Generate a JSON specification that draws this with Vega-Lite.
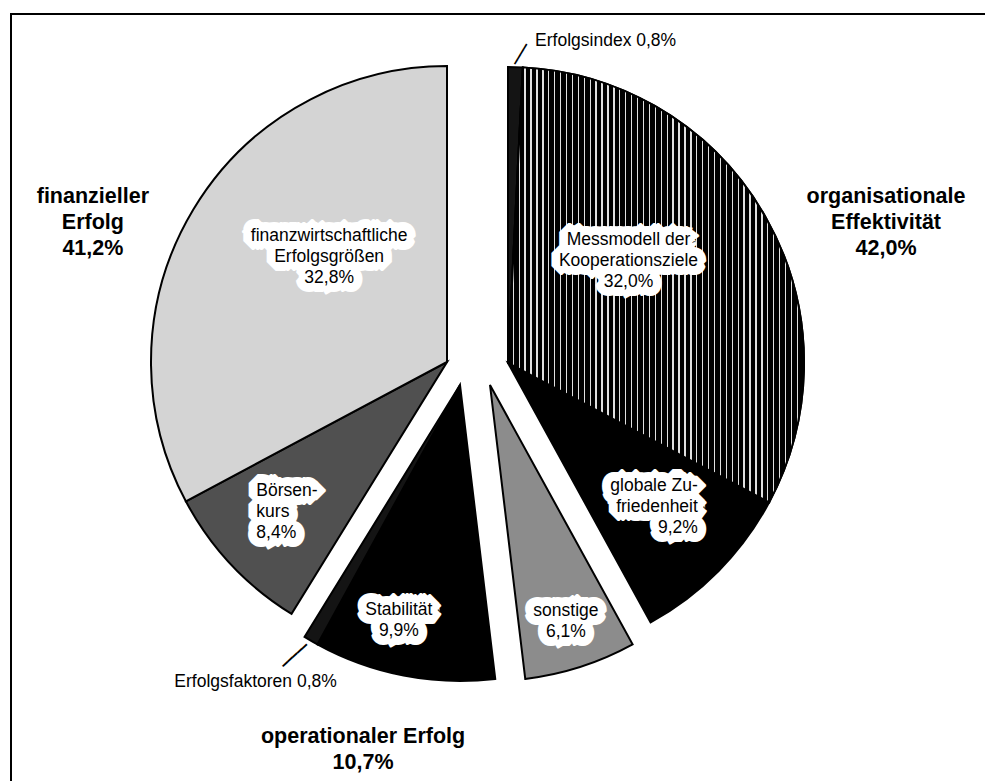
{
  "$schema": "https://vega.github.io/schema/vega-lite/v6.json",
  "width": 1000,
  "height": 800,
  "autosize": "none",
  "padding": {"left": 11, "top": 14, "right": -26, "bottom": -33},
  "background": "white",
  "config": {"view": {"stroke": "black", "strokeWidth": 2}, "font": "Liberation Sans"},
  "data": {
    "values": [
      {"order": 1, "group": "organisationale Effektivität", "item": "Erfolgsindex", "value": 0.8, "outside": "Erfolgsindex 0,8%", "title": "organisationale\nEffektivität\n42,0%"},
      {"order": 2, "group": "organisationale Effektivität", "item": "Messmodell der Kooperationsziele", "value": 32.0, "label": "Messmodell der\nKooperationsziele\n32,0%"},
      {"order": 3, "group": "organisationale Effektivität", "item": "globale Zufriedenheit", "value": 9.2, "label": "globale Zu-\nfriedenheit\n9,2%"},
      {"order": 4, "group": "sonstige", "item": "sonstige", "value": 6.1, "label": "sonstige\n6,1%"},
      {"order": 5, "group": "operationaler Erfolg", "item": "Stabilität", "value": 9.9, "label": "Stabilität\n9,9%", "title": "operationaler Erfolg\n10,7%"},
      {"order": 6, "group": "operationaler Erfolg", "item": "Erfolgsfaktoren", "value": 0.8, "outside": "Erfolgsfaktoren 0,8%"},
      {"order": 7, "group": "finanzieller Erfolg", "item": "Börsenkurs", "value": 8.4, "label": "Börsen-\nkurs\n8,4%", "title": "finanzieller\nErfolg\n41,2%"},
      {"order": 8, "group": "finanzieller Erfolg", "item": "finanzwirtschaftliche Erfolgsgrößen", "value": 32.8, "label": "finanzwirtschaftliche\nErfolgsgrößen\n32,8%"}
    ]
  },
  "transform": [
    {"window": [{"op": "sum", "field": "value", "as": "cum"}], "sort": [{"field": "order", "order": "ascending"}], "frame": [null, 0]},
    {"calculate": "datum.cum - datum.value", "as": "start"},
    {"calculate": "datum.cum - datum.value / 2", "as": "mid"}
  ],
  "layer": [
    {
      "mark": {"type": "point", "opacity": 0},
      "encoding": {
        "x": {"field": "value", "type": "quantitative", "axis": null},
        "y": {"field": "cum", "type": "quantitative", "axis": null}
      }
    },
    {
      "transform": [{"filter": "datum.group === 'organisationale Effektivität'"}],
      "layer": [
        {
          "mark": {"type": "arc", "outerRadius": 296, "stroke": "black", "strokeWidth": 2, "xOffset": -3, "yOffset": -51},
          "encoding": {
            "theta": {"field": "start", "type": "quantitative", "stack": null, "scale": {"domain": [0, 100], "range": [0, 6.283185307179586]}},
            "theta2": {"field": "cum"},
            "fill": {"field": "item", "type": "nominal", "legend": null, "scale": {"domain": ["Erfolgsindex", "Messmodell der Kooperationsziele", "globale Zufriedenheit", "sonstige", "Stabilität", "Erfolgsfaktoren", "Börsenkurs", "finanzwirtschaftliche Erfolgsgrößen"], "range": ["#141414", "#000000", "#000000", "#8c8c8c", "#000000", "#141414", "#505050", "#d4d4d4"]}}
          }
        },
        {
          "transform": [{"filter": "datum.item === 'Messmodell der Kooperationsziele'"}],
          "mark": {"type": "arc", "outerRadius": 296, "stroke": "black", "strokeWidth": 2, "xOffset": -3, "yOffset": -51,
            "fill": {"gradient": "linear", "x1": 0, "y1": 0, "x2": 1, "y2": 0, "stops": [
              {"offset": 0, "color": "#000"}, {"offset": 0.0155, "color": "#000"}, {"offset": 0.0155, "color": "#e0e0e0"}, {"offset": 0.02, "color": "#e0e0e0"},
              {"offset": 0.02, "color": "#000"}, {"offset": 0.0355, "color": "#000"}, {"offset": 0.0355, "color": "#e0e0e0"}, {"offset": 0.04, "color": "#e0e0e0"},
              {"offset": 0.04, "color": "#000"}, {"offset": 0.0555, "color": "#000"}, {"offset": 0.0555, "color": "#e0e0e0"}, {"offset": 0.06, "color": "#e0e0e0"},
              {"offset": 0.06, "color": "#000"}, {"offset": 0.0755, "color": "#000"}, {"offset": 0.0755, "color": "#e0e0e0"}, {"offset": 0.08, "color": "#e0e0e0"},
              {"offset": 0.08, "color": "#000"}, {"offset": 0.0955, "color": "#000"}, {"offset": 0.0955, "color": "#e0e0e0"}, {"offset": 0.1, "color": "#e0e0e0"},
              {"offset": 0.1, "color": "#000"}, {"offset": 0.1155, "color": "#000"}, {"offset": 0.1155, "color": "#e0e0e0"}, {"offset": 0.12, "color": "#e0e0e0"},
              {"offset": 0.12, "color": "#000"}, {"offset": 0.1355, "color": "#000"}, {"offset": 0.1355, "color": "#e0e0e0"}, {"offset": 0.14, "color": "#e0e0e0"},
              {"offset": 0.14, "color": "#000"}, {"offset": 0.1555, "color": "#000"}, {"offset": 0.1555, "color": "#e0e0e0"}, {"offset": 0.16, "color": "#e0e0e0"},
              {"offset": 0.16, "color": "#000"}, {"offset": 0.1755, "color": "#000"}, {"offset": 0.1755, "color": "#e0e0e0"}, {"offset": 0.18, "color": "#e0e0e0"},
              {"offset": 0.18, "color": "#000"}, {"offset": 0.1955, "color": "#000"}, {"offset": 0.1955, "color": "#e0e0e0"}, {"offset": 0.2, "color": "#e0e0e0"},
              {"offset": 0.2, "color": "#000"}, {"offset": 0.2155, "color": "#000"}, {"offset": 0.2155, "color": "#e0e0e0"}, {"offset": 0.22, "color": "#e0e0e0"},
              {"offset": 0.22, "color": "#000"}, {"offset": 0.2355, "color": "#000"}, {"offset": 0.2355, "color": "#e0e0e0"}, {"offset": 0.24, "color": "#e0e0e0"},
              {"offset": 0.24, "color": "#000"}, {"offset": 0.2555, "color": "#000"}, {"offset": 0.2555, "color": "#e0e0e0"}, {"offset": 0.26, "color": "#e0e0e0"},
              {"offset": 0.26, "color": "#000"}, {"offset": 0.2755, "color": "#000"}, {"offset": 0.2755, "color": "#e0e0e0"}, {"offset": 0.28, "color": "#e0e0e0"},
              {"offset": 0.28, "color": "#000"}, {"offset": 0.2955, "color": "#000"}, {"offset": 0.2955, "color": "#e0e0e0"}, {"offset": 0.3, "color": "#e0e0e0"},
              {"offset": 0.3, "color": "#000"}, {"offset": 0.3155, "color": "#000"}, {"offset": 0.3155, "color": "#e0e0e0"}, {"offset": 0.32, "color": "#e0e0e0"},
              {"offset": 0.32, "color": "#000"}, {"offset": 0.3355, "color": "#000"}, {"offset": 0.3355, "color": "#e0e0e0"}, {"offset": 0.34, "color": "#e0e0e0"},
              {"offset": 0.34, "color": "#000"}, {"offset": 0.3555, "color": "#000"}, {"offset": 0.3555, "color": "#e0e0e0"}, {"offset": 0.36, "color": "#e0e0e0"},
              {"offset": 0.36, "color": "#000"}, {"offset": 0.3755, "color": "#000"}, {"offset": 0.3755, "color": "#e0e0e0"}, {"offset": 0.38, "color": "#e0e0e0"},
              {"offset": 0.38, "color": "#000"}, {"offset": 0.3955, "color": "#000"}, {"offset": 0.3955, "color": "#e0e0e0"}, {"offset": 0.4, "color": "#e0e0e0"},
              {"offset": 0.4, "color": "#000"}, {"offset": 0.4155, "color": "#000"}, {"offset": 0.4155, "color": "#e0e0e0"}, {"offset": 0.42, "color": "#e0e0e0"},
              {"offset": 0.42, "color": "#000"}, {"offset": 0.4355, "color": "#000"}, {"offset": 0.4355, "color": "#e0e0e0"}, {"offset": 0.44, "color": "#e0e0e0"},
              {"offset": 0.44, "color": "#000"}, {"offset": 0.4555, "color": "#000"}, {"offset": 0.4555, "color": "#e0e0e0"}, {"offset": 0.46, "color": "#e0e0e0"},
              {"offset": 0.46, "color": "#000"}, {"offset": 0.4755, "color": "#000"}, {"offset": 0.4755, "color": "#e0e0e0"}, {"offset": 0.48, "color": "#e0e0e0"},
              {"offset": 0.48, "color": "#000"}, {"offset": 0.4955, "color": "#000"}, {"offset": 0.4955, "color": "#e0e0e0"}, {"offset": 0.5, "color": "#e0e0e0"},
              {"offset": 0.5, "color": "#000"}, {"offset": 0.5155, "color": "#000"}, {"offset": 0.5155, "color": "#e0e0e0"}, {"offset": 0.52, "color": "#e0e0e0"},
              {"offset": 0.52, "color": "#000"}, {"offset": 0.5355, "color": "#000"}, {"offset": 0.5355, "color": "#e0e0e0"}, {"offset": 0.54, "color": "#e0e0e0"},
              {"offset": 0.54, "color": "#000"}, {"offset": 0.5555, "color": "#000"}, {"offset": 0.5555, "color": "#e0e0e0"}, {"offset": 0.56, "color": "#e0e0e0"},
              {"offset": 0.56, "color": "#000"}, {"offset": 0.5755, "color": "#000"}, {"offset": 0.5755, "color": "#e0e0e0"}, {"offset": 0.58, "color": "#e0e0e0"},
              {"offset": 0.58, "color": "#000"}, {"offset": 0.5955, "color": "#000"}, {"offset": 0.5955, "color": "#e0e0e0"}, {"offset": 0.6, "color": "#e0e0e0"},
              {"offset": 0.6, "color": "#000"}, {"offset": 0.6155, "color": "#000"}, {"offset": 0.6155, "color": "#e0e0e0"}, {"offset": 0.62, "color": "#e0e0e0"},
              {"offset": 0.62, "color": "#000"}, {"offset": 0.6355, "color": "#000"}, {"offset": 0.6355, "color": "#e0e0e0"}, {"offset": 0.64, "color": "#e0e0e0"},
              {"offset": 0.64, "color": "#000"}, {"offset": 0.6555, "color": "#000"}, {"offset": 0.6555, "color": "#e0e0e0"}, {"offset": 0.66, "color": "#e0e0e0"},
              {"offset": 0.66, "color": "#000"}, {"offset": 0.6755, "color": "#000"}, {"offset": 0.6755, "color": "#e0e0e0"}, {"offset": 0.68, "color": "#e0e0e0"},
              {"offset": 0.68, "color": "#000"}, {"offset": 0.6955, "color": "#000"}, {"offset": 0.6955, "color": "#e0e0e0"}, {"offset": 0.7, "color": "#e0e0e0"},
              {"offset": 0.7, "color": "#000"}, {"offset": 0.7155, "color": "#000"}, {"offset": 0.7155, "color": "#e0e0e0"}, {"offset": 0.72, "color": "#e0e0e0"},
              {"offset": 0.72, "color": "#000"}, {"offset": 0.7355, "color": "#000"}, {"offset": 0.7355, "color": "#e0e0e0"}, {"offset": 0.74, "color": "#e0e0e0"},
              {"offset": 0.74, "color": "#000"}, {"offset": 0.7555, "color": "#000"}, {"offset": 0.7555, "color": "#e0e0e0"}, {"offset": 0.76, "color": "#e0e0e0"},
              {"offset": 0.76, "color": "#000"}, {"offset": 0.7755, "color": "#000"}, {"offset": 0.7755, "color": "#e0e0e0"}, {"offset": 0.78, "color": "#e0e0e0"},
              {"offset": 0.78, "color": "#000"}, {"offset": 0.7955, "color": "#000"}, {"offset": 0.7955, "color": "#e0e0e0"}, {"offset": 0.8, "color": "#e0e0e0"},
              {"offset": 0.8, "color": "#000"}, {"offset": 0.8155, "color": "#000"}, {"offset": 0.8155, "color": "#e0e0e0"}, {"offset": 0.82, "color": "#e0e0e0"},
              {"offset": 0.82, "color": "#000"}, {"offset": 0.8355, "color": "#000"}, {"offset": 0.8355, "color": "#e0e0e0"}, {"offset": 0.84, "color": "#e0e0e0"},
              {"offset": 0.84, "color": "#000"}, {"offset": 0.8555, "color": "#000"}, {"offset": 0.8555, "color": "#e0e0e0"}, {"offset": 0.86, "color": "#e0e0e0"},
              {"offset": 0.86, "color": "#000"}, {"offset": 0.8755, "color": "#000"}, {"offset": 0.8755, "color": "#e0e0e0"}, {"offset": 0.88, "color": "#e0e0e0"},
              {"offset": 0.88, "color": "#000"}, {"offset": 0.8955, "color": "#000"}, {"offset": 0.8955, "color": "#e0e0e0"}, {"offset": 0.9, "color": "#e0e0e0"},
              {"offset": 0.9, "color": "#000"}, {"offset": 0.9155, "color": "#000"}, {"offset": 0.9155, "color": "#e0e0e0"}, {"offset": 0.92, "color": "#e0e0e0"},
              {"offset": 0.92, "color": "#000"}, {"offset": 0.9355, "color": "#000"}, {"offset": 0.9355, "color": "#e0e0e0"}, {"offset": 0.94, "color": "#e0e0e0"},
              {"offset": 0.94, "color": "#000"}, {"offset": 0.9555, "color": "#000"}, {"offset": 0.9555, "color": "#e0e0e0"}, {"offset": 0.96, "color": "#e0e0e0"},
              {"offset": 0.96, "color": "#000"}, {"offset": 0.9755, "color": "#000"}, {"offset": 0.9755, "color": "#e0e0e0"}, {"offset": 0.98, "color": "#e0e0e0"},
              {"offset": 0.98, "color": "#000"}, {"offset": 0.9955, "color": "#000"}, {"offset": 0.9955, "color": "#e0e0e0"}, {"offset": 1, "color": "#e0e0e0"}
            ]}},
          "encoding": {
            "theta": {"field": "start", "type": "quantitative", "stack": null, "scale": {"domain": [0, 100], "range": [0, 6.283185307179586]}},
            "theta2": {"field": "cum"}
          }
        },
        {
          "transform": [{"filter": "isValid(datum.label)"}, {"calculate": "datum.value > 20 ? (datum.mid < 50 ? datum.mid - 3 : datum.mid + 3) : datum.mid", "as": "lpos"}],
          "mark": {"type": "text", "radius": {"expr": "datum.value > 20 ? 158 : 205"}, "xOffset": -3, "yOffset": -51, "dy": -21, "dx": {"expr": "datum.value > 20 ? 0 : 44"}, "align": {"expr": "datum.value > 20 ? 'center' : 'right'"}, "fontSize": 17.5, "lineHeight": 21, "lineBreak": "\n", "baseline": "middle", "fill": "white", "stroke": "white", "strokeWidth": 18, "strokeJoin": "bevel"},
          "encoding": {
            "theta": {"field": "lpos", "type": "quantitative", "stack": null, "scale": {"domain": [0, 100], "range": [0, 6.283185307179586]}},
            "text": {"field": "label", "type": "nominal"}
          }
        },
        {
          "transform": [{"filter": "isValid(datum.label)"}, {"calculate": "datum.value > 20 ? (datum.mid < 50 ? datum.mid - 3 : datum.mid + 3) : datum.mid", "as": "lpos"}],
          "mark": {"type": "text", "radius": {"expr": "datum.value > 20 ? 158 : 205"}, "xOffset": -3, "yOffset": -51, "dy": -21, "dx": {"expr": "datum.value > 20 ? 0 : 44"}, "align": {"expr": "datum.value > 20 ? 'center' : 'right'"}, "fontSize": 17.5, "lineHeight": 21, "lineBreak": "\n", "baseline": "middle", "fill": "white", "stroke": "white", "strokeWidth": 8, "strokeJoin": "round"},
          "encoding": {
            "theta": {"field": "lpos", "type": "quantitative", "stack": null, "scale": {"domain": [0, 100], "range": [0, 6.283185307179586]}},
            "text": {"field": "label", "type": "nominal"}
          }
        },
        {
          "transform": [{"filter": "isValid(datum.label)"}, {"calculate": "datum.value > 20 ? (datum.mid < 50 ? datum.mid - 3 : datum.mid + 3) : datum.mid", "as": "lpos"}],
          "mark": {"type": "text", "radius": {"expr": "datum.value > 20 ? 158 : 205"}, "xOffset": -3, "yOffset": -51, "dy": -21, "dx": {"expr": "datum.value > 20 ? 0 : 44"}, "align": {"expr": "datum.value > 20 ? 'center' : 'right'"}, "fontSize": 17.5, "lineHeight": 21, "lineBreak": "\n", "baseline": "middle", "fill": "black"},
          "encoding": {
            "theta": {"field": "lpos", "type": "quantitative", "stack": null, "scale": {"domain": [0, 100], "range": [0, 6.283185307179586]}},
            "text": {"field": "label", "type": "nominal"}
          }
        },
        {
          "transform": [{"filter": "isValid(datum.outside)"}],
          "mark": {"type": "text", "radius": 322, "xOffset": -3, "yOffset": -51, "dx": 19, "fontSize": 17.5, "align": "left", "baseline": "middle", "fill": "black"},
          "encoding": {
            "theta": {"field": "mid", "type": "quantitative", "stack": null, "scale": {"domain": [0, 100], "range": [0, 6.283185307179586]}},
            "text": {"field": "outside", "type": "nominal"}
          }
        },
        {
          "transform": [{"filter": "isValid(datum.outside)"}, {"calculate": "datum.mid + 0.27", "as": "lt"}],
          "mark": {"type": "text", "text": "━━━━", "font": "DejaVu Sans Mono", "fontSize": 9.7, "angle": -59, "radius": 309, "xOffset": -3, "yOffset": -51, "align": "center", "baseline": "middle", "fill": "black"},
          "encoding": {
            "theta": {"field": "lt", "type": "quantitative", "stack": null, "scale": {"domain": [0, 100], "range": [0, 6.283185307179586]}}
          }
        }
      ]
    },
    {
      "transform": [{"filter": "datum.group === 'sonstige'"}],
      "layer": [
        {
          "mark": {"type": "arc", "outerRadius": 296, "stroke": "black", "strokeWidth": 2, "xOffset": -21, "yOffset": -29},
          "encoding": {
            "theta": {"field": "start", "type": "quantitative", "stack": null, "scale": {"domain": [0, 100], "range": [0, 6.283185307179586]}},
            "theta2": {"field": "cum"},
            "fill": {"field": "item", "type": "nominal", "legend": null}
          }
        },
        {
          "mark": {"type": "text", "radius": 248, "xOffset": -21, "yOffset": -29, "dy": -10.5, "fontSize": 17.5, "lineHeight": 21, "lineBreak": "\n", "align": "center", "baseline": "middle", "fill": "white", "stroke": "white", "strokeWidth": 18, "strokeJoin": "bevel"},
          "encoding": {
            "theta": {"field": "mid", "type": "quantitative", "stack": null, "scale": {"domain": [0, 100], "range": [0, 6.283185307179586]}},
            "text": {"field": "label", "type": "nominal"}
          }
        },
        {
          "mark": {"type": "text", "radius": 248, "xOffset": -21, "yOffset": -29, "dy": -10.5, "fontSize": 17.5, "lineHeight": 21, "lineBreak": "\n", "align": "center", "baseline": "middle", "fill": "white", "stroke": "white", "strokeWidth": 8, "strokeJoin": "round"},
          "encoding": {
            "theta": {"field": "mid", "type": "quantitative", "stack": null, "scale": {"domain": [0, 100], "range": [0, 6.283185307179586]}},
            "text": {"field": "label", "type": "nominal"}
          }
        },
        {
          "mark": {"type": "text", "radius": 248, "xOffset": -21, "yOffset": -29, "dy": -10.5, "fontSize": 17.5, "lineHeight": 21, "lineBreak": "\n", "align": "center", "baseline": "middle", "fill": "black"},
          "encoding": {
            "theta": {"field": "mid", "type": "quantitative", "stack": null, "scale": {"domain": [0, 100], "range": [0, 6.283185307179586]}},
            "text": {"field": "label", "type": "nominal"}
          }
        }
      ]
    },
    {
      "transform": [{"filter": "datum.group === 'operationaler Erfolg'"}],
      "layer": [
        {
          "mark": {"type": "arc", "outerRadius": 296, "stroke": "black", "strokeWidth": 2, "xOffset": -51, "yOffset": -29},
          "encoding": {
            "theta": {"field": "start", "type": "quantitative", "stack": null, "scale": {"domain": [0, 100], "range": [0, 6.283185307179586]}},
            "theta2": {"field": "cum"},
            "fill": {"field": "item", "type": "nominal", "legend": null}
          }
        },
        {
          "transform": [{"filter": "isValid(datum.label)"}, {"calculate": "datum.mid + 1", "as": "lpos"}],
          "mark": {"type": "text", "radius": 243, "xOffset": -51, "yOffset": -29, "dy": -10.5, "fontSize": 17.5, "lineHeight": 21, "lineBreak": "\n", "align": "center", "baseline": "middle", "fill": "white", "stroke": "white", "strokeWidth": 18, "strokeJoin": "bevel"},
          "encoding": {
            "theta": {"field": "lpos", "type": "quantitative", "stack": null, "scale": {"domain": [0, 100], "range": [0, 6.283185307179586]}},
            "text": {"field": "label", "type": "nominal"}
          }
        },
        {
          "transform": [{"filter": "isValid(datum.label)"}, {"calculate": "datum.mid + 1", "as": "lpos"}],
          "mark": {"type": "text", "radius": 243, "xOffset": -51, "yOffset": -29, "dy": -10.5, "fontSize": 17.5, "lineHeight": 21, "lineBreak": "\n", "align": "center", "baseline": "middle", "fill": "white", "stroke": "white", "strokeWidth": 8, "strokeJoin": "round"},
          "encoding": {
            "theta": {"field": "lpos", "type": "quantitative", "stack": null, "scale": {"domain": [0, 100], "range": [0, 6.283185307179586]}},
            "text": {"field": "label", "type": "nominal"}
          }
        },
        {
          "transform": [{"filter": "isValid(datum.label)"}, {"calculate": "datum.mid + 1", "as": "lpos"}],
          "mark": {"type": "text", "radius": 243, "xOffset": -51, "yOffset": -29, "dy": -10.5, "fontSize": 17.5, "lineHeight": 21, "lineBreak": "\n", "align": "center", "baseline": "middle", "fill": "black"},
          "encoding": {
            "theta": {"field": "lpos", "type": "quantitative", "stack": null, "scale": {"domain": [0, 100], "range": [0, 6.283185307179586]}},
            "text": {"field": "label", "type": "nominal"}
          }
        },
        {
          "transform": [{"filter": "isValid(datum.outside)"}],
          "mark": {"type": "text", "radius": 330, "xOffset": -51, "yOffset": -29, "dx": 43, "dy": 12, "fontSize": 17.5, "align": "right", "baseline": "middle", "fill": "black"},
          "encoding": {
            "theta": {"field": "mid", "type": "quantitative", "stack": null, "scale": {"domain": [0, 100], "range": [0, 6.283185307179586]}},
            "text": {"field": "outside", "type": "nominal"}
          }
        },
        {
          "transform": [{"filter": "isValid(datum.outside)"}, {"calculate": "datum.mid + 0.3", "as": "lt"}],
          "mark": {"type": "text", "text": "━━━━━", "font": "DejaVu Sans Mono", "fontSize": 10.8, "angle": -42.5, "radius": 317, "xOffset": -51, "yOffset": -29, "align": "center", "baseline": "middle", "fill": "black"},
          "encoding": {
            "theta": {"field": "lt", "type": "quantitative", "stack": null, "scale": {"domain": [0, 100], "range": [0, 6.283185307179586]}}
          }
        }
      ]
    },
    {
      "transform": [{"filter": "datum.group === 'finanzieller Erfolg'"}],
      "layer": [
        {
          "mark": {"type": "arc", "outerRadius": 296, "stroke": "black", "strokeWidth": 2, "xOffset": -64, "yOffset": -52},
          "encoding": {
            "theta": {"field": "start", "type": "quantitative", "stack": null, "scale": {"domain": [0, 100], "range": [0, 6.283185307179586]}},
            "theta2": {"field": "cum"},
            "fill": {"field": "item", "type": "nominal", "legend": null}
          }
        },
        {
          "transform": [{"filter": "isValid(datum.label)"}, {"calculate": "datum.value > 20 ? (datum.mid < 50 ? datum.mid - 3 : datum.mid + 3) : datum.mid", "as": "lpos"}],
          "mark": {"type": "text", "radius": {"expr": "datum.value > 20 ? 158 : 219"}, "xOffset": -64, "yOffset": -52, "dy": -21, "dx": {"expr": "datum.value > 20 ? 0 : -31"}, "align": {"expr": "datum.value > 20 ? 'center' : 'left'"}, "fontSize": 17.5, "lineHeight": 21, "lineBreak": "\n", "baseline": "middle", "fill": "white", "stroke": "white", "strokeWidth": 18, "strokeJoin": "bevel"},
          "encoding": {
            "theta": {"field": "lpos", "type": "quantitative", "stack": null, "scale": {"domain": [0, 100], "range": [0, 6.283185307179586]}},
            "text": {"field": "label", "type": "nominal"}
          }
        },
        {
          "transform": [{"filter": "isValid(datum.label)"}, {"calculate": "datum.value > 20 ? (datum.mid < 50 ? datum.mid - 3 : datum.mid + 3) : datum.mid", "as": "lpos"}],
          "mark": {"type": "text", "radius": {"expr": "datum.value > 20 ? 158 : 219"}, "xOffset": -64, "yOffset": -52, "dy": -21, "dx": {"expr": "datum.value > 20 ? 0 : -31"}, "align": {"expr": "datum.value > 20 ? 'center' : 'left'"}, "fontSize": 17.5, "lineHeight": 21, "lineBreak": "\n", "baseline": "middle", "fill": "white", "stroke": "white", "strokeWidth": 8, "strokeJoin": "round"},
          "encoding": {
            "theta": {"field": "lpos", "type": "quantitative", "stack": null, "scale": {"domain": [0, 100], "range": [0, 6.283185307179586]}},
            "text": {"field": "label", "type": "nominal"}
          }
        },
        {
          "transform": [{"filter": "isValid(datum.label)"}, {"calculate": "datum.value > 20 ? (datum.mid < 50 ? datum.mid - 3 : datum.mid + 3) : datum.mid", "as": "lpos"}],
          "mark": {"type": "text", "radius": {"expr": "datum.value > 20 ? 158 : 219"}, "xOffset": -64, "yOffset": -52, "dy": -21, "dx": {"expr": "datum.value > 20 ? 0 : -31"}, "align": {"expr": "datum.value > 20 ? 'center' : 'left'"}, "fontSize": 17.5, "lineHeight": 21, "lineBreak": "\n", "baseline": "middle", "fill": "black"},
          "encoding": {
            "theta": {"field": "lpos", "type": "quantitative", "stack": null, "scale": {"domain": [0, 100], "range": [0, 6.283185307179586]}},
            "text": {"field": "label", "type": "nominal"}
          }
        }
      ]
    },
    {
      "transform": [
        {"joinaggregate": [{"op": "min", "field": "start", "as": "gstart"}, {"op": "max", "field": "cum", "as": "gend"}], "groupby": ["group"]},
        {"filter": "isValid(datum.title)"},
        {"calculate": "(datum.gstart + datum.gend) / 2", "as": "gmid"},
        {"calculate": "datum.gmid + (datum.gmid < 30 ? -2.28 : datum.gmid > 70 ? 2.22 : 1.35)", "as": "tpos"}
      ],
      "mark": {"type": "text", "radius": {"expr": "datum.gmid < 30 ? 442 : datum.gmid > 70 ? 421 : 387"}, "xOffset": -33, "yOffset": -47, "fontSize": 21.5, "fontWeight": "bold", "lineHeight": 26, "lineBreak": "\n", "align": "center", "baseline": "middle", "fill": "black"},
      "encoding": {
        "theta": {"field": "tpos", "type": "quantitative", "stack": null, "scale": {"domain": [0, 100], "range": [0, 6.283185307179586]}},
        "text": {"field": "title", "type": "nominal"}
      }
    }
  ]
}
